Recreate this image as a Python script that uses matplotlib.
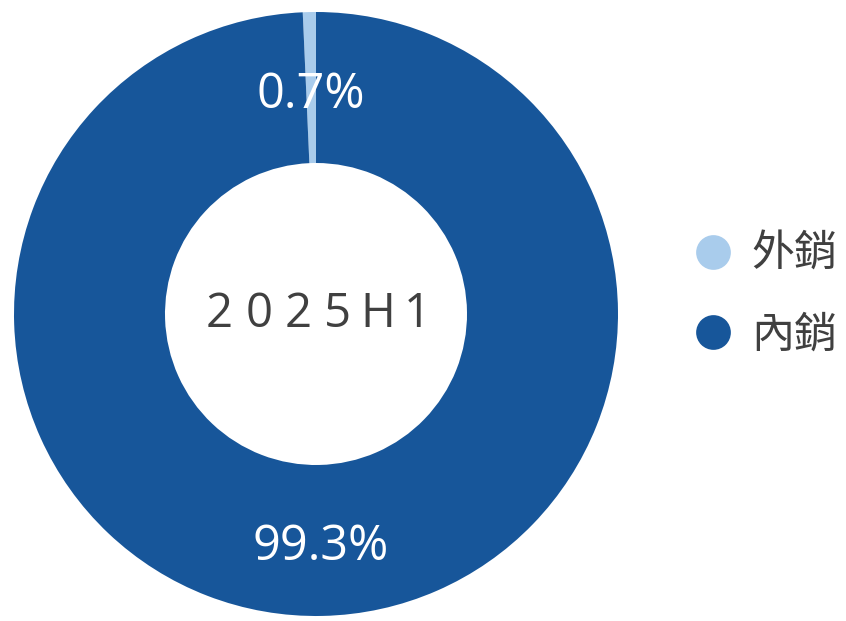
import matplotlib.pyplot as plt
from matplotlib.lines import Line2D

plt.rcParams['font.family'] = ['Noto Sans CJK TC', 'DejaVu Sans']

labels = ['外銷', '內銷']
shares = [0.7, 99.3]
colors = ['#A9CCEC', '#17569A']
center_text = '2025H1'

fig = plt.figure(figsize=(8.46, 6.21), dpi=100)
ax = fig.add_axes([14 / 846, 5 / 621, 604 / 846, 604 / 621])

wedges, texts, autotexts = ax.pie(
    shares, colors=colors, startangle=90, counterclock=True,
    radius=1.0, wedgeprops=dict(width=0.5, linewidth=0),
    autopct='%.1f%%', pctdistance=0.75,
    textprops=dict(color='white', fontsize=35, family=['Open Sans', 'DejaVu Sans']))
for t in autotexts:
    x, y = t.get_position()
    t.set_position((x, y - 0.024))
ax.set_xlim(-1, 1)
ax.set_ylim(-1, 1)
ax.set_aspect('equal')
ax.axis('off')

# letter-spaced center label
step = 0.131
x0 = -step * (len(center_text) - 1) / 2
for i, ch in enumerate(center_text):
    ax.text(x0 + i * step + 0.007, 0.0, ch, ha='center', va='center', fontsize=34,
            color='#404040', family=['Open Sans', 'DejaVu Sans'])

handles = [Line2D([], [], marker='o', linestyle='', markersize=25,
                  markerfacecolor=c, markeredgewidth=0) for c in colors]
fig.legend(handles, labels, loc='center left', bbox_to_anchor=(0.812, 0.525),
           frameon=False, fontsize=31, labelcolor='#404040', borderpad=0,
           borderaxespad=0, handletextpad=0.3, labelspacing=0.85, handlelength=1.2)

fig.savefig('out.png', dpi=100)
